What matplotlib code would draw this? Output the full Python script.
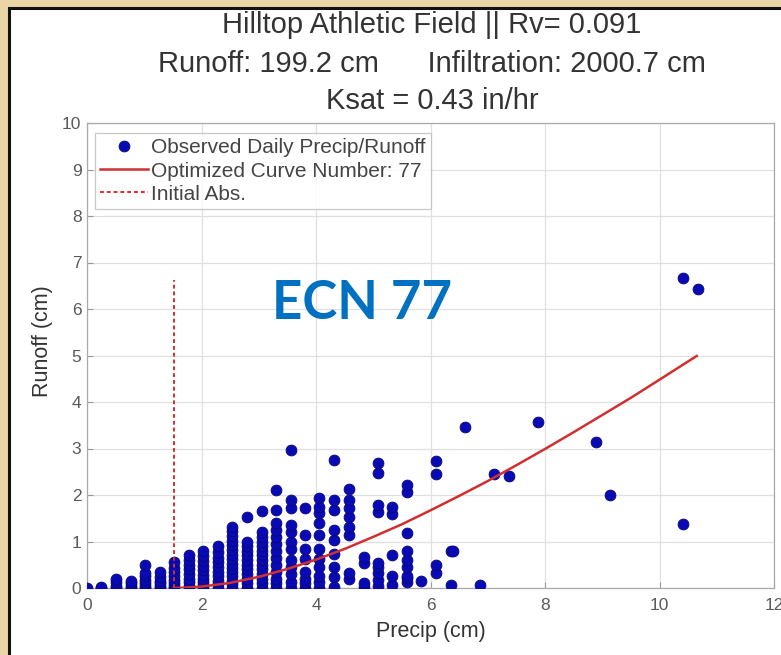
import numpy as np
import matplotlib.pyplot as plt
from matplotlib.patches import Rectangle

# observed daily precip (cm) columns and the runoff values stacked in each one
precip_cols = [0.0, 0.25, 0.51, 0.76, 1.02, 1.27, 1.52, 1.78, 2.03, 2.29,
               2.54, 2.79, 3.05, 3.30, 3.56, 3.81, 4.06, 4.32, 4.57, 4.83,
               5.08, 5.33, 5.59, 5.84, 6.10, 6.35, 6.40, 6.60, 6.86, 7.11,
               7.37, 7.87, 8.89, 9.14, 10.41, 10.67]
runoff_cols = [
    [0.0],
    [0.0, 0.02],
    [0.0, 0.05, 0.12, 0.2],
    [0.0, 0.05, 0.1, 0.15],
    [0.0, 0.05, 0.1, 0.18, 0.25, 0.33, 0.5],
    [0.0, 0.05, 0.1, 0.16, 0.24, 0.35],
    [0.0, 0.04, 0.1, 0.18, 0.26, 0.34, 0.44, 0.55],
    [0.0, 0.05, 0.12, 0.2, 0.3, 0.4, 0.5, 0.6, 0.72],
    [0.0, 0.06, 0.13, 0.2, 0.28, 0.38, 0.48, 0.58, 0.68, 0.8],
    [0.0, 0.08, 0.16, 0.25, 0.35, 0.45, 0.55, 0.65, 0.78, 0.9],
    [0.0, 0.08, 0.16, 0.25, 0.34, 0.43, 0.52, 0.62, 0.72, 0.82, 0.92, 1.02, 1.12, 1.22, 1.32],
    [0.0, 0.1, 0.2, 0.3, 0.4, 0.5, 0.6, 0.7, 0.8, 0.9, 1.0, 1.53],
    [0.0, 0.1, 0.2, 0.3, 0.4, 0.5, 0.6, 0.7, 0.8, 0.9, 1.0, 1.1, 1.2, 1.66],
    [0.0, 0.1, 0.2, 0.35, 0.5, 0.65, 0.8, 0.95, 1.1, 1.25, 1.4, 1.68, 2.11],
    [0.0, 0.12, 0.3, 0.45, 0.6, 0.84, 0.98, 1.2, 1.35, 1.71, 1.89, 2.97],
    [0.0, 0.1, 0.2, 0.35, 0.63, 0.84, 1.14, 1.71],
    [0.0, 0.12, 0.25, 0.45, 0.63, 0.84, 1.15, 1.4, 1.61, 1.75, 1.93],
    [0.03, 0.24, 0.46, 0.74, 1.03, 1.25, 1.68, 1.89, 2.75],
    [0.2, 0.32, 1.14, 1.32, 1.53, 1.71, 1.89, 2.13],
    [0.03, 0.1, 0.53, 0.67],
    [0.05, 0.18, 0.32, 0.46, 0.53, 1.64, 1.78, 2.47, 2.68],
    [0.07, 0.25, 0.71, 1.6, 1.75],
    [0.12, 0.21, 0.25, 0.46, 0.6, 0.8, 1.18, 2.07, 2.21],
    [0.14],
    [0.33, 0.49, 2.45, 2.74],
    [0.06, 0.8],
    [0.8],
    [3.47],
    [0.06],
    [2.45],
    [2.4],
    [3.56],
    [3.15],
    [2.0],
    [1.38, 6.66],
    [6.42],
]

# optimized curve number line
curve_p = [1.52, 1.75, 2.0, 2.5, 3.0, 3.5, 4.0, 4.5, 5.0, 5.5, 6.0, 6.5,
           7.0, 7.5, 8.0, 8.5, 9.0, 9.5, 10.0, 10.65]
curve_q = [0.0, 0.01, 0.03, 0.11, 0.24, 0.41, 0.61, 0.84, 1.10, 1.37, 1.67, 1.98,
           2.30, 2.64, 2.99, 3.35, 3.72, 4.09, 4.48, 4.99]
ia_x = 1.52
ia_top = 6.62

x_pts = []
y_pts = []
for p, col in zip(precip_cols, runoff_cols):
    for q in col:
        x_pts.append(p)
        y_pts.append(q)

plt.rcParams['font.family'] = ['Liberation Sans', 'DejaVu Sans']

fig = plt.figure(figsize=(7.81, 6.55), dpi=100)
fig.patch.set_facecolor('#ead5a6')
fig.patches.append(Rectangle((8.5 / 781, -0.1), 1.2, 1 - 7.5 / 655 + 0.1,
                             transform=fig.transFigure, facecolor='white',
                             edgecolor='#111111', linewidth=2.2, zorder=-5))

ax = fig.add_axes([87 / 781, 1 - 588 / 655, 687 / 781, 465 / 655])
ax.set_facecolor('white')

ax.plot(x_pts, y_pts, 'o', color='#0a0ab4', markeredgecolor='#08087a',
        markersize=7.8, markeredgewidth=0.6, zorder=3,
        label='Observed Daily Precip/Runoff')
ax.plot(curve_p, curve_q, '-', color='#d03030', linewidth=1.8, zorder=4,
        label='Optimized Curve Number: 77')
ax.plot([ia_x, ia_x], [0, ia_top], '--', color='#d03030', linewidth=1.4,
        dashes=(2, 1.5), zorder=4, label='Initial Abs.')

ax.set_xlim(0, 12)
ax.set_ylim(0, 10)
ax.set_xticks(range(0, 13, 2))
ax.set_yticks(range(0, 11))
ax.grid(True, color='#e0e0e0', linewidth=0.9)
ax.set_axisbelow(True)
for s in ax.spines.values():
    s.set_color('#aaaaaa')
    s.set_linewidth(0.9)
ax.tick_params(direction='in', length=4, color='#999999', labelsize=12.5,
               labelcolor='#5a5a5a', pad=4)
ax.tick_params(axis='x', pad=7)

ax.set_xlabel('Precip (cm)', fontsize=15.5, color='#333333', labelpad=6)
ax.set_ylabel('Runoff (cm)', fontsize=15.5, color='#333333')
ax.yaxis.set_label_coords(-0.05, 0.53)

leg = ax.legend(loc='upper left', bbox_to_anchor=(0.005, 0.987), fontsize=15,
                frameon=True, fancybox=False, borderpad=0.25, labelspacing=0.2,
                handlelength=2.3, handletextpad=0.15, borderaxespad=0.2)
leg.get_frame().set_edgecolor('#bbbbbb')
leg.get_frame().set_linewidth(0.9)
for t in leg.get_texts():
    t.set_color('#444444')

title_x = 432 / 781
fig.text(title_x, 1 - 33 / 655, 'Hilltop Athletic Field || Rv= 0.091', ha='center',
         va='baseline', fontsize=21, color='#333333')
fig.text(title_x, 1 - 72 / 655, 'Runoff: 199.2 cm      Infiltration: 2000.7 cm', ha='center',
         va='baseline', fontsize=21, color='#333333')
fig.text(title_x, 1 - 109 / 655, 'Ksat = 0.43 in/hr', ha='center', va='baseline',
         fontsize=21, color='#333333')

ax.text(4.8, 6.12, 'ECN 77', ha='center', va='center', fontsize=38,
        fontweight='bold', color='#0070c0', family=['Lato', 'DejaVu Sans'], zorder=5)

fig.savefig('out.png', dpi=100, facecolor=fig.get_facecolor())
